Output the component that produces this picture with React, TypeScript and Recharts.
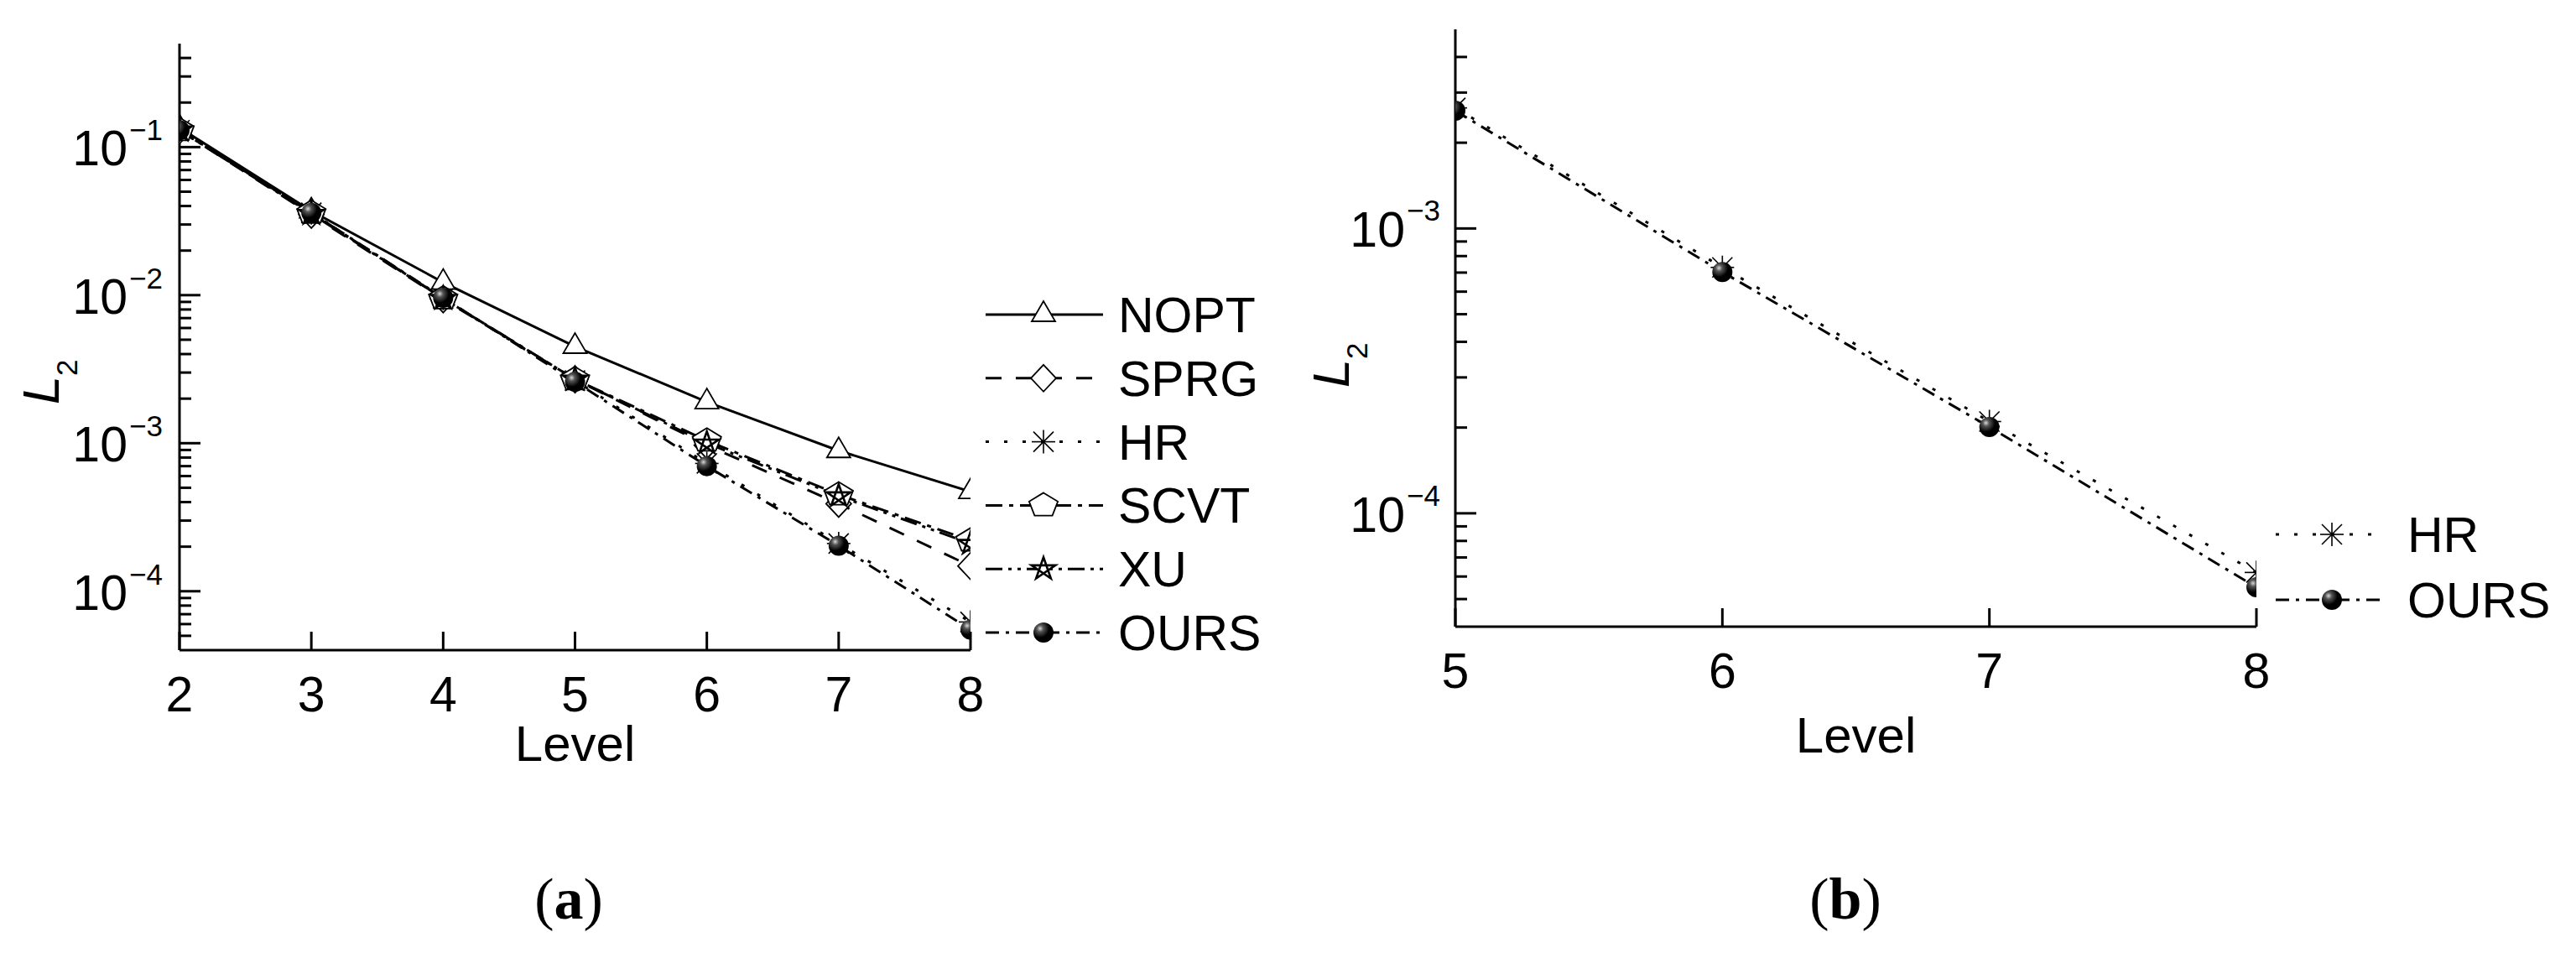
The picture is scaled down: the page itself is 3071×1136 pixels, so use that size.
import React from 'react';
import { LineChart, Line, XAxis, YAxis, Legend } from 'recharts';

const FONT = '"Liberation Sans", Arial, sans-serif';
const SERIF = '"Liberation Serif", "Times New Roman", serif';

// ---- panel (a): all methods, levels 2..8 ----
const LEVELS_A = [2, 3, 4, 5, 6, 7, 8];
const NOPT_A = [0.135, 0.037, 0.0122, 0.0045, 0.0019, 0.00089, 0.00047];
const SPRG_A = [0.13, 0.035, 0.0094, 0.0027, 0.00097, 0.00039, 0.000148];
const HR_A = [0.13, 0.036, 0.0095, 0.00265, 0.00073, 0.00021, 0.000062];
const SCVT_A = [0.13, 0.036, 0.0095, 0.0027, 0.00104, 0.00045, 0.00022];
const XU_A = [0.13, 0.0355, 0.0095, 0.0027, 0.001, 0.00044, 0.00021];
const OURS_A = [0.13, 0.036, 0.0096, 0.0026, 0.0007, 0.000203, 0.000055];

// ---- panel (b): HR vs OURS, levels 5..8 ----
const LEVELS_B = [5, 6, 7, 8];
const HR_B = [0.00265, 0.00073, 0.00021, 0.000062];
const OURS_B = [0.00259, 0.000703, 0.000201, 0.000055];

// axis ticks
const X_TICKS_A = [2, 3, 4, 5, 6, 7, 8];
const X_TICKS_B = [5, 6, 7, 8];
const Y_DOMAIN_A: [number, number] = [4e-5, 0.5];
const Y_DOMAIN_B: [number, number] = [4e-5, 5e-3];
const Y_MAJOR_A = [1e-4, 1e-3, 1e-2, 1e-1];
const Y_MAJOR_B = [1e-4, 1e-3];
const Y_MINOR_A = [
  5e-5, 6e-5, 7e-5, 8e-5, 9e-5,
  2e-4, 3e-4, 4e-4, 5e-4, 6e-4, 7e-4, 8e-4, 9e-4,
  2e-3, 3e-3, 4e-3, 5e-3, 6e-3, 7e-3, 8e-3, 9e-3,
  2e-2, 3e-2, 4e-2, 5e-2, 6e-2, 7e-2, 8e-2, 9e-2,
  0.2, 0.3, 0.4,
];
const Y_MINOR_B = [
  5e-5, 6e-5, 7e-5, 8e-5, 9e-5,
  2e-4, 3e-4, 4e-4, 5e-4, 6e-4, 7e-4, 8e-4, 9e-4,
  2e-3, 3e-3, 4e-3,
];

type Kind = 'triangle' | 'diamond' | 'asterisk' | 'pentagon' | 'star' | 'ball';

const STYLE: Record<string, { dash?: string; marker: Kind }> = {
  NOPT: { marker: 'triangle' },
  SPRG: { dash: '19 17', marker: 'diamond' },
  HR: { dash: '4 18', marker: 'asterisk' },
  SCVT: { dash: '20 8 5 8', marker: 'pentagon' },
  XU: { dash: '20 7 4 7 4 7', marker: 'star' },
  OURS: { dash: '16 8 4 8', marker: 'ball' },
};

const rowsA = LEVELS_A.map((level, i) => ({
  level,
  NOPT: NOPT_A[i],
  SPRG: SPRG_A[i],
  HR: HR_A[i],
  SCVT: SCVT_A[i],
  XU: XU_A[i],
  OURS: OURS_A[i],
}));
const rowsB = LEVELS_B.map((level, i) => ({ level, HR: HR_B[i], OURS: OURS_B[i] }));

const SERIES_A = ['NOPT', 'SPRG', 'HR', 'SCVT', 'XU', 'OURS'];
const SERIES_B = ['HR', 'OURS'];

const Marker = ({ kind, cx, cy, uid }: { kind: Kind; cx: number; cy: number; uid: string }) => {
  switch (kind) {
    case 'triangle':
      return (
        <polygon
          points={`${cx},${cy - 16} ${cx - 14},${cy + 8} ${cx + 14},${cy + 8}`}
          fill="#fff"
          stroke="#000"
          strokeWidth={1.8}
        />
      );
    case 'diamond':
      return (
        <polygon
          points={`${cx},${cy - 16} ${cx + 15},${cy} ${cx},${cy + 16} ${cx - 15},${cy}`}
          fill="#fff"
          stroke="#000"
          strokeWidth={1.8}
        />
      );
    case 'asterisk':
      return (
        <g stroke="#000" strokeWidth={1.6}>
          <line x1={cx} y1={cy - 14} x2={cx} y2={cy + 14} />
          <line x1={cx - 14} y1={cy} x2={cx + 14} y2={cy} />
          <line x1={cx - 12} y1={cy - 12} x2={cx + 12} y2={cy + 12} />
          <line x1={cx - 12} y1={cy + 12} x2={cx + 12} y2={cy - 12} />
        </g>
      );
    case 'pentagon': {
      const pts = [0, 1, 2, 3, 4]
        .map((k) => {
          const a = -Math.PI / 2 + (k * 2 * Math.PI) / 5;
          return `${cx + 18 * Math.cos(a)},${cy + 15 * Math.sin(a)}`;
        })
        .join(' ');
      return <polygon points={pts} fill="#fff" stroke="#000" strokeWidth={1.8} />;
    }
    case 'star': {
      const pts = [0, 2, 4, 1, 3]
        .map((k) => {
          const a = -Math.PI / 2 + (k * 2 * Math.PI) / 5;
          return `${cx + 15 * Math.cos(a)},${cy + 14 * Math.sin(a)}`;
        })
        .join(' ');
      return <polygon points={pts} fill="#fff" fillRule="nonzero" stroke="#000" strokeWidth={2.6} />;
    }
    case 'ball':
    default:
      return (
        <g>
          <defs>
            <radialGradient id={uid} cx="0.33" cy="0.3" r="0.75">
              <stop offset="0" stopColor="#d8d8d8" />
              <stop offset="0.22" stopColor="#555" />
              <stop offset="0.6" stopColor="#000" />
            </radialGradient>
          </defs>
          <circle cx={cx} cy={cy} r={12} fill={`url(#${uid})`} />
        </g>
      );
  }
};

const dotFor = (kind: Kind, prefix: string) => (p: any) => {
  const key = `${prefix}-${p.index}`;
  if (p.cx == null || p.cy == null) return <g key={key} />;
  return <Marker key={key} kind={kind} cx={p.cx} cy={p.cy} uid={key} />;
};

const LogTick = (props: any) => {
  const { y, payload, axisX, majors, labelRight, baseDy, supDy } = props;
  const v = payload.value as number;
  const major = majors.some((m: number) => Math.abs(m - v) / m < 1e-6);
  const exp = Math.round(Math.log10(v));
  return (
    <g>
      <line x1={axisX} x2={axisX + (major ? 25 : 14)} y1={y} y2={y} stroke="#000" strokeWidth={3} />
      {major && (
        <g fontFamily={FONT} fill="#000">
          <text x={labelRight} y={y + baseDy} textAnchor="end" fontSize={59}>
            10
          </text>
          <text x={labelRight + 2} y={y + supDy} fontSize={35}>
            {'\u2212' + Math.abs(exp)}
          </text>
        </g>
      )}
    </g>
  );
};

const LevelTick = (props: any) => {
  const { x, payload, bottom } = props;
  return (
    <g>
      <line x1={x} x2={x} y1={bottom} y2={bottom - 22} stroke="#000" strokeWidth={3} />
      <text x={x} y={bottom + 73} textAnchor="middle" fontSize={59} fontFamily={FONT} fill="#000">
        {payload.value}
      </text>
    </g>
  );
};

const LevelLabel = (props: any) => {
  const { viewBox, dy } = props;
  return (
    <text
      x={viewBox.x + viewBox.width / 2}
      y={viewBox.y + dy}
      textAnchor="middle"
      fontSize={60}
      fontFamily={FONT}
      fill="#000"
    >
      Level
    </text>
  );
};

const L2Label = ({ bx, by }: { bx: number; by: number }) => (
  <text transform={`translate(${bx},${by}) rotate(-90)`} fontFamily={FONT} fill="#000">
    <tspan fontSize={61} fontStyle="italic">
      L
    </tspan>
    <tspan fontSize={35} dy={22}>
      2
    </tspan>
  </text>
);

const LegendBox = ({
  names,
  width,
  height,
  first,
  step,
  x1,
  x2,
  mx,
  tx,
  prefix,
}: {
  names: string[];
  width: number;
  height: number;
  first: number;
  step: number;
  x1: number;
  x2: number;
  mx: number;
  tx: number;
  prefix: string;
}) => (
  <svg width={width} height={height} style={{ display: 'block', overflow: 'visible' }}>
    {names.map((name, i) => {
      const y = first + i * step;
      const st = STYLE[name];
      return (
        <g key={name}>
          <line x1={x1} x2={x2} y1={y} y2={y} stroke="#000" strokeWidth={3} strokeDasharray={st.dash} />
          <Marker kind={st.marker} cx={mx} cy={y} uid={`${prefix}-leg-${name}`} />
          <text x={tx} y={y + 21} fontSize={59} fontFamily={FONT} fill="#000">
            {name}
          </text>
        </g>
      );
    })}
  </svg>
);

// plot rectangles (chart-local coordinates)
const A = { w: 1560, h: 960, left: 214, right: 1157, top: 52, bottom: 775 };
const B = { w: 1571, h: 960, left: 235, right: 1190, top: 35, bottom: 747 };

export default function App() {
  return (
    <div style={{ position: 'absolute', left: 0, top: 0, width: 3071, height: 1136, background: '#fff' }}>
      <div style={{ position: 'absolute', left: 0, top: 0 }}>
        <LineChart
          width={A.w}
          height={A.h}
          data={rowsA}
          margin={{ top: A.top, right: A.w - A.right, left: 0, bottom: 0 }}
        >
          <XAxis
            dataKey="level"
            type="number"
            domain={[2, 8]}
            ticks={X_TICKS_A}
            interval={0}
            allowDataOverflow
            height={A.h - A.bottom}
            axisLine={{ stroke: '#000', strokeWidth: 3 }}
            tickLine={false}
            tick={<LevelTick bottom={A.bottom} />}
            label={<LevelLabel dy={132} />}
          />
          <XAxis xAxisId="top" orientation="top" type="number" domain={[0, 1]} height={0} tick={false} tickLine={false} axisLine={{ stroke: '#000', strokeWidth: 3 }} />
          <YAxis
            scale="log"
            type="number"
            domain={Y_DOMAIN_A}
            allowDataOverflow
            ticks={[...Y_MAJOR_A, ...Y_MINOR_A]}
            interval={0}
            width={A.left}
            axisLine={{ stroke: '#000', strokeWidth: 3 }}
            tickLine={false}
            tick={<LogTick axisX={A.left} majors={Y_MAJOR_A} labelRight={152} baseDy={22} supDy={-8} />}
            label={<L2Label bx={70} by={482} />}
          />
          <YAxis yAxisId="right" orientation="right" type="number" domain={[0, 1]} width={0} tick={false} tickLine={false} axisLine={{ stroke: '#000', strokeWidth: 3 }} />
          {SERIES_A.map((name) => (
            <Line
              key={name}
              type="linear"
              dataKey={name}
              name={name}
              stroke="#000"
              strokeWidth={3}
              strokeDasharray={STYLE[name].dash}
              dot={dotFor(STYLE[name].marker, `a-${name}`)}
              activeDot={false}
              isAnimationActive={false}
            />
          ))}
          <Legend
            layout="vertical"
            align="center"
            verticalAlign="middle"
            wrapperStyle={{ left: 1160, top: 330, width: 400, height: 470 }}
            content={() => (
              <LegendBox names={SERIES_A} width={400} height={470} first={45} step={75.8} x1={15} x2={155} mx={84} tx={173} prefix="a" />
            )}
          />
        </LineChart>
      </div>

      <div style={{ position: 'absolute', left: 1500, top: 0 }}>
        <LineChart
          width={B.w}
          height={B.h}
          data={rowsB}
          margin={{ top: B.top, right: B.w - B.right, left: 0, bottom: 0 }}
        >
          <XAxis
            dataKey="level"
            type="number"
            domain={[5, 8]}
            ticks={X_TICKS_B}
            interval={0}
            allowDataOverflow
            height={B.h - B.bottom}
            axisLine={{ stroke: '#000', strokeWidth: 3 }}
            tickLine={false}
            tick={<LevelTick bottom={B.bottom} />}
            label={<LevelLabel dy={150} />}
          />
          <XAxis xAxisId="top" orientation="top" type="number" domain={[0, 1]} height={0} tick={false} tickLine={false} axisLine={{ stroke: '#000', strokeWidth: 3 }} />
          <YAxis
            scale="log"
            type="number"
            domain={Y_DOMAIN_B}
            allowDataOverflow
            ticks={[...Y_MAJOR_B, ...Y_MINOR_B]}
            interval={0}
            width={B.left}
            axisLine={{ stroke: '#000', strokeWidth: 3 }}
            tickLine={false}
            tick={<LogTick axisX={B.left} majors={Y_MAJOR_B} labelRight={175} baseDy={22} supDy={-9} />}
            label={<L2Label bx={108} by={462} />}
          />
          <YAxis yAxisId="right" orientation="right" type="number" domain={[0, 1]} width={0} tick={false} tickLine={false} axisLine={{ stroke: '#000', strokeWidth: 3 }} />
          {SERIES_B.map((name) => (
            <Line
              key={name}
              type="linear"
              dataKey={name}
              name={name}
              stroke="#000"
              strokeWidth={3}
              strokeDasharray={STYLE[name].dash}
              dot={dotFor(STYLE[name].marker, `b-${name}`)}
              activeDot={false}
              isAnimationActive={false}
            />
          ))}
          <Legend
            layout="vertical"
            align="center"
            verticalAlign="middle"
            wrapperStyle={{ left: 1200, top: 590, width: 371, height: 170 }}
            content={() => (
              <LegendBox names={SERIES_B} width={371} height={170} first={47} step={78} x1={13} x2={139} mx={80} tx={170} prefix="b" />
            )}
          />
        </LineChart>
      </div>

      <svg style={{ position: 'absolute', left: 0, top: 1000 }} width={3071} height={136}>
        <text x={678} y={95} textAnchor="middle" fontSize={70} fontFamily={SERIF} fill="#000">
          (<tspan fontWeight="bold">a</tspan>)
        </text>
        <text x={2200} y={95} textAnchor="middle" fontSize={70} fontFamily={SERIF} fill="#000">
          (<tspan fontWeight="bold">b</tspan>)
        </text>
      </svg>
    </div>
  );
}
